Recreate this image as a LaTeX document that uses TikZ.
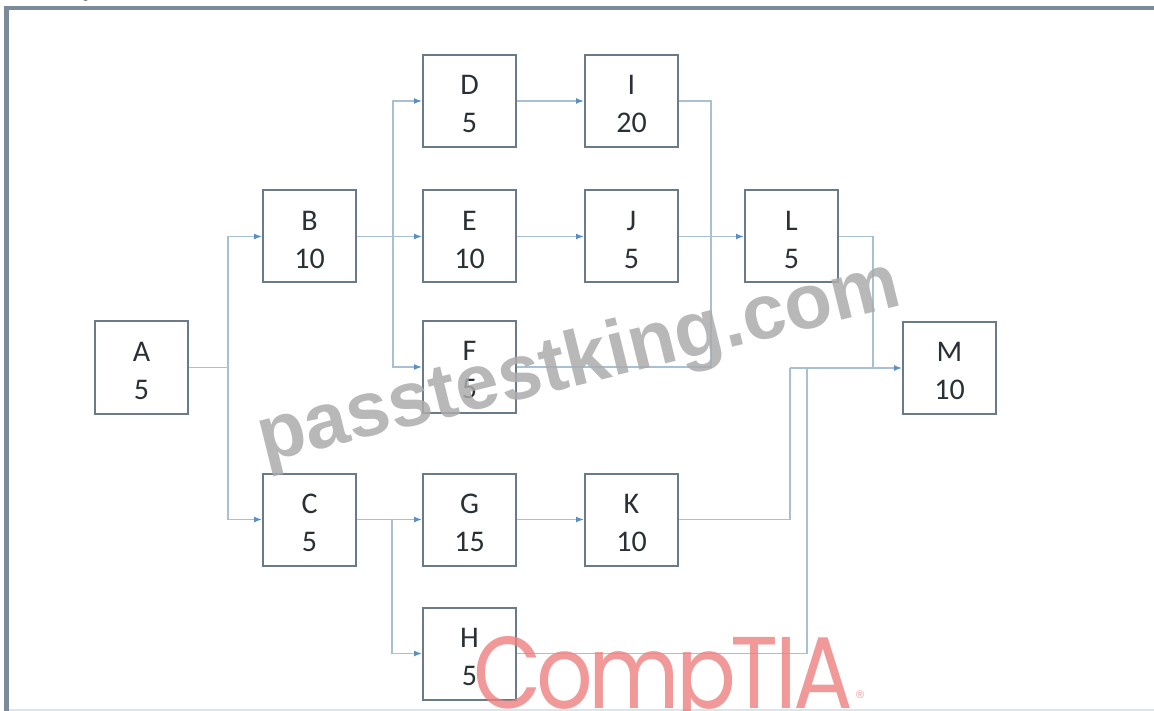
\documentclass[tikz,border=0pt]{standalone}
\usepackage{fontspec}
\setmainfont{Carlito}
\newfontfamily\wmfont{Liberation Sans}
\newfontfamily\logofont{Poppins}
\newfontfamily\qfont{Liberation Serif}
\usetikzlibrary{arrows.meta}
\definecolor{framecol}{HTML}{7B8B9A}
\definecolor{botcol}{HTML}{DDE4EA}
\definecolor{boxcol}{HTML}{6A7A88}
\definecolor{txtcol}{HTML}{2A3036}
\definecolor{conncol}{HTML}{A9C0D4}
\definecolor{tipcol}{HTML}{5B8FC0}
\definecolor{wmgray}{HTML}{ABABAB}
\definecolor{logored}{HTML}{EE7E7E}
\begin{document}
\begin{tikzpicture}[x=1pt,y=-1pt,
  box/.style={draw=boxcol, line width=2pt, minimum width=93pt, minimum height=92pt, inner sep=0pt},
  lbl/.style={inner sep=0pt, align=center, font=\fontsize{30}{38}\selectfont, text=txtcol},
  conn/.style={draw=conncol, line width=1.5pt},
  arr/.style={conn, -{Latex[length=8pt,width=6pt,color=tipcol]}}]
\useasboundingbox (0,0) rectangle (1154,711);
% frame
\fill[framecol] (4,6) rectangle (1154,10);
\fill[framecol] (4,6) rectangle (8.5,711);
\fill[botcol] (8.5,708.5) rectangle (1154,711);
\node[font=\qfont\fontsize{22}{22}\selectfont, anchor=base west, inner sep=0pt] (q) at (72,-2) {Q};
% boxes
\node[box] (A) at (141.5,367.5) {};
\node[box] (B) at (309.5,236.5) {};
\node[box] (C) at (309.5,519.5) {};
\node[box] (D) at (469.5,101) {};
\node[box] (E) at (469.5,236.5) {};
\node[box] (F) at (469.5,367) {};
\node[box] (G) at (469.5,519.5) {};
\node[box] (H) at (469.5,653.5) {};
\node[box] (I) at (631.5,101) {};
\node[box] (J) at (631.5,236.5) {};
\node[box] (K) at (631.5,519.5) {};
\node[box] (L) at (791.5,236.5) {};
\node[box] (M) at (949.5,368) {};
% labels
\node[lbl] (At) at ([yshift=-3pt]A.center) {A\\5};
\node[lbl] (Bt) at ([yshift=-3pt]B.center) {B\\10};
\node[lbl] (Ct) at ([yshift=-3pt]C.center) {C\\5};
\node[lbl] (Dt) at ([yshift=-3pt]D.center) {D\\5};
\node[lbl] (Et) at ([yshift=-3pt]E.center) {E\\10};
\node[lbl] (Ft) at ([yshift=-3pt]F.center) {F\\5};
\node[lbl] (Gt) at ([yshift=-3pt]G.center) {G\\15};
\node[lbl] (Ht) at ([yshift=-3pt]H.center) {H\\5};
\node[lbl] (It) at ([yshift=-3pt]I.center) {I\\20};
\node[lbl] (Jt) at ([yshift=-3pt]J.center) {J\\5};
\node[lbl] (Kt) at ([yshift=-3pt]K.center) {K\\10};
\node[lbl] (Lt) at ([yshift=-3pt]L.center) {L\\5};
\node[lbl] (Mt) at ([yshift=-3pt]M.center) {M\\10};
% junctions
\coordinate (sa) at (228,367.5);
\coordinate (sb) at (393,236.5);
\coordinate (sc) at (392,519.5);
\coordinate (sl) at (711,236.5);
\coordinate (sm) at (873,368);
\coordinate (sk) at (790,368);
\coordinate (sh) at (807,368);
% connectors
\draw[conn] (A.east) -- (sa);
\draw[arr] (sa) |- (B.west);
\draw[arr] (sa) |- (C.west);
\draw[conn] (B.east) -- (sb);
\draw[arr] (sb) |- (D.west);
\draw[arr] (sb) -- (E.west);
\draw[arr] (sb) |- (F.west);
\draw[conn] (C.east) -- (sc);
\draw[arr] (sc) -- (G.west);
\draw[arr] (sc) |- (H.west);
\draw[arr] (D) -- (I);
\draw[arr] (E) -- (J);
\draw[arr] (G) -- (K);
\draw[conn] (I.east) -| (sl);
\draw[conn] (F.east) -| (sl);
\draw[arr] (J) -- (L);
\draw[conn] (L.east) -| (sm);
\draw[conn] (K.east) -| (sk);
\draw[conn] (H.east) -| (sh);
\draw[arr] (sk) -- (M.west);
% watermarks
\node[rotate=13.8, anchor=base, inner sep=0pt, font=\wmfont\bfseries\fontsize{78}{78}\selectfont,
  text=wmgray, opacity=0.85] (wm) at (584,384) {passtestking.com};
\node[anchor=base west, inner sep=0pt, xscale=0.87, font=\logofont\fontsize{102}{102}\selectfont,
  text=logored, opacity=0.8] (logo) at (473,708) {C\kern-6pt o\kern-5pt m\kern-5pt p\kern-6pt T\kern-4pt I\kern-4pt A};
\node[anchor=base west, inner sep=0pt, font=\wmfont\fontsize{11}{11}\selectfont,
  text=logored, opacity=0.8] (reg) at (856,698) {®};
\end{tikzpicture}
\end{document}
